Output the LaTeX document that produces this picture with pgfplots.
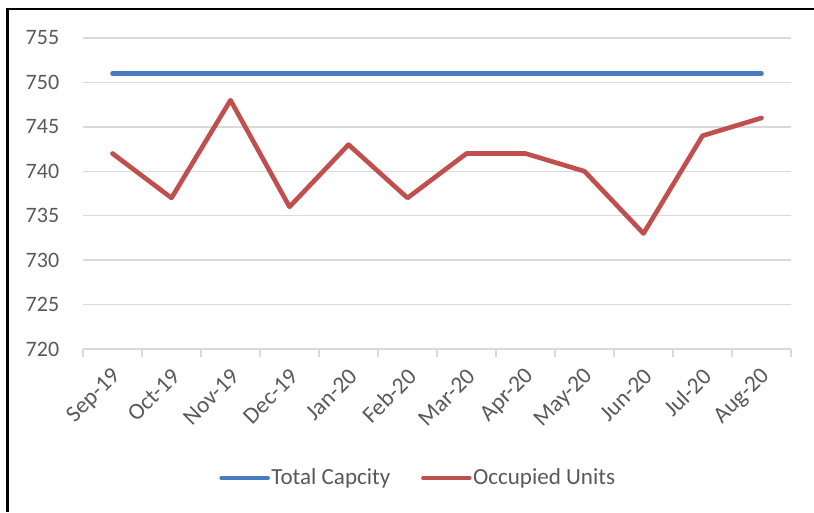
\documentclass[border=0pt]{standalone}
\usepackage{fontspec}
\setmainfont{Carlito}
\usepackage{pgfplots}
\pgfplotsset{compat=1.18}
\definecolor{txt}{HTML}{595959}
\definecolor{gridc}{HTML}{D9D9D9}
\definecolor{cblue}{HTML}{4A7BC0}
\definecolor{cred}{HTML}{C0504D}
\begin{document}
\fontsize{17pt}{20pt}\selectfont
\begin{tikzpicture}
\useasboundingbox (0,0) rectangle (610.5pt,384pt);
\draw[black, line width=1.6pt] (5.6pt,0) -- (5.6pt,377pt) -- (610.5pt,377pt);
\begin{axis}[
  at={(62.25pt,122.25pt)}, anchor=south west,
  scale only axis, width=531pt, height=233.25pt,
  xmin=-0.5, xmax=11.5, ymin=720, ymax=755,
  xtick={0,...,11},
  xticklabels={Sep-19,Oct-19,Nov-19,Dec-19,Jan-20,Feb-20,Mar-20,Apr-20,May-20,Jun-20,Jul-20,Aug-20},
  minor xtick={-0.5,0.5,...,11.5},
  ytick={720,725,...,755},
  major tick length=0pt, minor tick length=6pt,
  tick align=outside,
  axis x line*=bottom, axis y line*=left,
  y axis line style={draw=none},
  x axis line style={draw=gridc, line width=1pt, -},
  minor tick style={draw=gridc, line width=1pt},
  ymajorgrids, grid style={draw=gridc, line width=1pt},
  ticklabel style={font=\fontsize{16.5pt}{19pt}\selectfont, text=txt},
  /pgf/number format/assume math mode=true,
  yticklabel style={xshift=-12pt},
  xticklabel style={font=\fontsize{17.5pt}{20pt}\selectfont, rotate=45, anchor=east, xshift=-4.4pt, yshift=-15pt},
  legend style={at={(0.473,-0.415)}, anchor=center, draw=none, fill=none,
    legend columns=2, font=\fontsize{17.3pt}{20pt}\selectfont, text=txt,
    nodes={inner xsep=1pt},
    /tikz/every even column/.append style={column sep=22pt}},
  legend image code/.code={\draw[#1, line width=3.5pt, line cap=round] (1.5pt,0pt) -- (36pt,0pt);},
]
\addplot[cblue, line width=3.5pt, line cap=round, line join=round] coordinates {
(0,751) (1,751) (2,751) (3,751) (4,751) (5,751) (6,751) (7,751) (8,751) (9,751) (10,751) (11,751)};
\addlegendentry{Total Capcity}
\addplot[cred, line width=3.5pt, line cap=round, line join=round] coordinates {
(0,742) (1,737) (2,748) (3,736) (4,743) (5,737) (6,742) (7,742) (8,740) (9,733) (10,744) (11,746)};
\addlegendentry{Occupied Units}
\end{axis}
\end{tikzpicture}
\end{document}
